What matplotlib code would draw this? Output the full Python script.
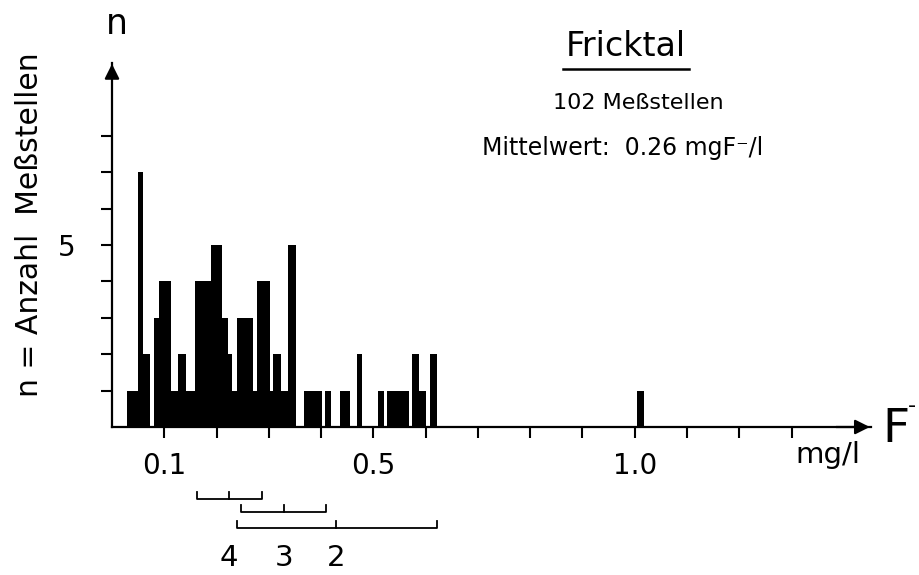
import numpy as np
import matplotlib.pyplot as plt

# Fluorid-Messungen Fricktal (Histogramm)
kanten = [0.028, 0.049, 0.060, 0.073, 0.080, 0.089, 0.112, 0.126, 0.141, 0.158,
          0.190, 0.211, 0.221, 0.230, 0.239, 0.270, 0.278, 0.302, 0.308, 0.324,
          0.337, 0.352, 0.368, 0.402, 0.408, 0.419, 0.437, 0.456, 0.468, 0.479,
          0.509, 0.521, 0.527, 0.568, 0.574, 0.587, 0.601, 0.608, 0.621, 1.004,
          1.017]
anzahl = [1, 7, 2, 0, 3, 4, 1, 2, 1, 4,
          5, 3, 2, 1, 3, 1, 4, 1, 2, 1,
          5, 0, 1, 0, 1, 0, 1, 0, 2, 0,
          1, 0, 1, 0, 2, 1, 0, 2, 0, 1]

x_ticks = [0.1, 0.2, 0.3, 0.4, 0.5, 0.6, 0.7, 0.8, 0.9, 1.0, 1.1, 1.2, 1.3]
x_labels = ["0.1", "", "", "", "0.5", "", "", "", "", "1.0", "", "", ""]
y_ticks = [1, 2, 3, 4, 5, 6, 7, 8]
y_labels = ["", "", "", "", "5", "", "", ""]

# Bereiche (Klammern unter der Achse)
klammer_nr = ["4", "3", "2"]
klammer_von = [0.163, 0.2475, 0.2385]
klammer_mitte = [0.223, 0.329, 0.429]
klammer_bis = [0.287, 0.410, 0.621]
klammer_y = [-1.98, -2.33, -2.77]

W, H = 919, 575
fig = plt.figure(figsize=(W / 100, H / 100), dpi=100)
ax = fig.add_axes([112 / W, (H - 427) / H, (871 - 112) / W, (427 - 63) / H])

ax.stairs(anzahl, kanten, fill=True, color="black", linewidth=0)

ax.set_xlim(0, 1.452)
ax.set_ylim(0, 10)
for s in ["top", "right"]:
    ax.spines[s].set_visible(False)
for s in ["left", "bottom"]:
    ax.spines[s].set_linewidth(1.6)

ax.annotate("", xy=(1.455, 0), xytext=(1.38, 0),
            arrowprops=dict(arrowstyle="-|>", color="black", lw=1.6, mutation_scale=22),
            annotation_clip=False)
ax.annotate("", xy=(0, 10.05), xytext=(0, 9.5),
            arrowprops=dict(arrowstyle="-|>", color="black", lw=1.6, mutation_scale=22),
            annotation_clip=False)

ax.set_xticks(x_ticks, x_labels)
ax.set_yticks(y_ticks, y_labels)
ax.tick_params(axis="x", length=8, width=1.5, pad=10, labelsize=20)
ax.tick_params(axis="y", length=8, width=1.5, pad=18, labelsize=20)

# Klammern
for nr, a, m, b, y in zip(klammer_nr, klammer_von, klammer_mitte, klammer_bis, klammer_y):
    ax.plot([a, a, b, b], [y + 0.2, y, y, y + 0.2], color="black", lw=1.3, clip_on=False)
    ax.plot([m, m], [y, y + 0.2], color="black", lw=1.3, clip_on=False)
    ax.text(m, -3.6, nr, ha="center", va="center", fontsize=21, clip_on=False)

# Beschriftungen
fig.text(30 / W, 1 - 225 / H, "n = Anzahl  Meßstellen", rotation=90,
         ha="center", va="center", fontsize=21.5)
fig.text(117 / W, 1 - 24 / H, "n", ha="center", va="center", fontsize=25)
fig.text(828 / W, 1 - 455 / H, "mg/l", ha="center", va="center", fontsize=21)
fig.text(882 / W, 1 - 430 / H, "F", ha="left", va="center", fontsize=34)
fig.text(912 / W, 1 - 406 / H, "-", ha="center", va="center", fontsize=16)

fig.text(626 / W, 1 - 46 / H, "Fricktal", ha="center", va="center", fontsize=24)
fig.add_artist(plt.Line2D([563 / W, 689 / W], [1 - 69 / H, 1 - 69 / H],
                          color="black", lw=1.8))
fig.text(638 / W, 1 - 103 / H, "102 Meßstellen", ha="center", va="center", fontsize=16)
fig.text(623 / W, 1 - 148 / H, "Mittelwert:  0.26 mgF⁻/l", ha="center", va="center",
         fontsize=17)

fig.savefig("out.png", dpi=100)
